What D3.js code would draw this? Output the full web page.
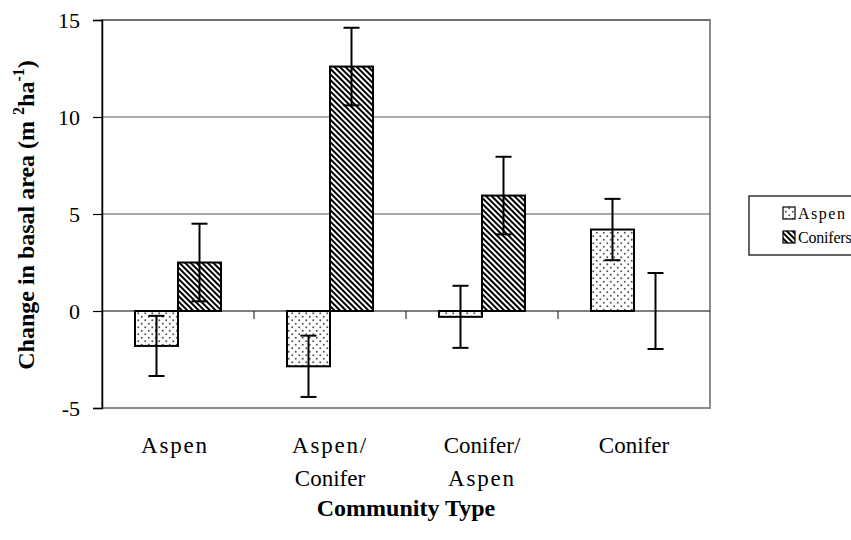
<!DOCTYPE html>
<html>
<head>
<meta charset="utf-8">
<script src="https://cdn.jsdelivr.net/npm/d3@7/dist/d3.min.js"></script>
<style>
  html, body { margin: 0; padding: 0; background: #fff; }
  svg { display: block; font-family: "Liberation Serif", "Times New Roman", serif; }
</style>
</head>
<body>
<svg id="chart" width="851" height="540"></svg>
<script>
// Community types along the x axis (multi-line labels)
const categories = ["Aspen", "Aspen/Conifer", "Conifer/Aspen", "Conifer"];
const categoryLines = [["Aspen"], ["Aspen/", "Conifer"], ["Conifer/", "Aspen"], ["Conifer"]];
const series = ["Aspen", "Conifers"];

// Change in basal area per series, and the error-bar half widths
const aspenValues = [-1.8, -2.85, -0.3, 4.2];
const aspenErrors = [1.55, 1.58, 1.6, 1.58];
const coniferValues = [2.5, 12.6, 5.95, 0];
const coniferErrors = [2.0, 2.0, 2.0, 1.96];

const yTicks = [-5, 0, 5, 10, 15];

const svg = d3.select("#chart");
const plot = { left: 102, right: 710, top: 20, bottom: 408 };

const x = d3.scaleBand().domain(categories).range([plot.left, plot.right]).padding(0);
const xInner = d3.scaleBand().domain(series).range([0, x.bandwidth()])
  .paddingInner(0).paddingOuter(0.767);
const y = d3.scaleLinear().domain([-5, 15]).range([plot.bottom, plot.top]);

// Fill patterns: dotted for aspen, diagonal hatch for conifers
const defs = svg.append("defs");
const dots = defs.append("pattern").attr("id", "dots")
  .attr("patternUnits", "userSpaceOnUse").attr("width", 7).attr("height", 7);
dots.append("rect").attr("width", 7).attr("height", 7).attr("fill", "#fff");
dots.append("circle").attr("cx", 1.75).attr("cy", 1.75).attr("r", 1).attr("fill", "#555");
dots.append("circle").attr("cx", 5.25).attr("cy", 5.25).attr("r", 1).attr("fill", "#555");

const hatch = defs.append("pattern").attr("id", "hatch")
  .attr("patternUnits", "userSpaceOnUse").attr("width", 4).attr("height", 4)
  .attr("patternTransform", "rotate(-45)");
hatch.append("rect").attr("width", 4).attr("height", 4).attr("fill", "#fff");
hatch.append("rect").attr("x", 0).attr("width", 2).attr("height", 4).attr("fill", "#000");

// Plot frame
svg.append("rect")
  .attr("x", plot.left).attr("y", plot.top)
  .attr("width", plot.right - plot.left).attr("height", plot.bottom - plot.top)
  .attr("fill", "none").attr("stroke", "#8c8c8c").attr("stroke-width", 2);

// Horizontal gridlines
svg.append("g").selectAll("line")
  .data(yTicks.filter(t => t !== 0 && t !== -5))
  .join("line")
  .attr("x1", plot.left).attr("x2", plot.right)
  .attr("y1", d => y(d)).attr("y2", d => y(d))
  .attr("stroke", "#555").attr("stroke-width", 1.2);

// Y axis
const yAxis = svg.append("g")
  .attr("transform", `translate(${plot.left},0)`)
  .call(d3.axisLeft(y).tickValues(yTicks).tickSize(9).tickPadding(13).tickFormat(d3.format("d")));
yAxis.select(".domain").attr("stroke", "#000").attr("stroke-width", 1.5);
yAxis.selectAll(".tick line").attr("stroke", "#000").attr("stroke-width", 1.2);
yAxis.selectAll(".tick text")
  .attr("font-family", "Liberation Serif, serif").attr("font-size", 22).attr("fill", "#000")
  .text(d => d < 0 ? "-" + Math.abs(d) : d);

// Zero line (category axis) with tick marks between groups
svg.append("line")
  .attr("x1", plot.left).attr("x2", plot.right)
  .attr("y1", y(0)).attr("y2", y(0))
  .attr("stroke", "#000").attr("stroke-width", 1.2);
svg.append("g").selectAll("line")
  .data(categories.slice(1))
  .join("line")
  .attr("x1", d => x(d)).attr("x2", d => x(d))
  .attr("y1", y(0)).attr("y2", y(0) + 8)
  .attr("stroke", "#333").attr("stroke-width", 1.2);

// Bars
const rows = categories.map((c, i) => [
  { cat: c, s: "Aspen", v: aspenValues[i], e: aspenErrors[i], fill: "url(#dots)" },
  { cat: c, s: "Conifers", v: coniferValues[i], e: coniferErrors[i], fill: "url(#hatch)" }
]).flat();

svg.append("g").selectAll("rect")
  .data(rows.filter(d => d.v !== 0))
  .join("rect")
  .attr("x", d => x(d.cat) + xInner(d.s))
  .attr("width", xInner.bandwidth())
  .attr("y", d => Math.min(y(d.v), y(0)))
  .attr("height", d => Math.abs(y(d.v) - y(0)))
  .attr("fill", d => d.fill)
  .attr("stroke", "#000").attr("stroke-width", 2);

// Error bars
const eb = svg.append("g").attr("stroke", "#000").attr("stroke-width", 2);
rows.forEach(d => {
  const cx = x(d.cat) + xInner(d.s) + xInner.bandwidth() / 2;
  eb.append("line").attr("x1", cx).attr("x2", cx)
    .attr("y1", y(d.v + d.e)).attr("y2", y(d.v - d.e));
  [d.v + d.e, d.v - d.e].forEach(val => {
    eb.append("line").attr("x1", cx - 8).attr("x2", cx + 8)
      .attr("y1", y(val)).attr("y2", y(val));
  });
});

// Category labels
const catG = svg.append("g").attr("font-size", 23).attr("fill", "#000").attr("text-anchor", "middle");
categories.forEach((c, i) => {
  const cx = x(c) + x.bandwidth() / 2;
  const t = catG.append("text").attr("x", cx).attr("y", 453);
  categoryLines[i].forEach((ln, j) => {
    t.append("tspan").attr("x", ln === "Aspen" && i === 0 ? cx - 3 : cx).attr("dy", j === 0 ? 0 : 33)
      .attr("letter-spacing", ln.startsWith("Aspen") ? 1.8 : 0).text(ln);
  });
});

// Axis titles
svg.append("text")
  .attr("x", (plot.left + plot.right) / 2).attr("y", 516)
  .attr("text-anchor", "middle").attr("font-size", 24).attr("font-weight", "bold")
  .text("Community Type");

const yTitle = svg.append("text")
  .attr("transform", "translate(34,215) rotate(-90)")
  .attr("text-anchor", "middle").attr("font-size", 24).attr("font-weight", "bold");
yTitle.append("tspan").text("Change in basal area (m ");
yTitle.append("tspan").attr("dy", -10).attr("font-size", 16).text("2");
yTitle.append("tspan").attr("dy", 10).text("ha");
yTitle.append("tspan").attr("dy", -10).attr("font-size", 16).text("-1");
yTitle.append("tspan").attr("dy", 10).text(")");

// Legend
const legend = svg.append("g");
legend.append("rect")
  .attr("x", 749).attr("y", 196).attr("width", 120).attr("height", 59)
  .attr("fill", "#fff").attr("stroke", "#333").attr("stroke-width", 1.5);
series.forEach((s, i) => {
  const ly = 213 + i * 24;
  legend.append("rect")
    .attr("x", 783).attr("y", ly - 6).attr("width", 12).attr("height", 12)
    .attr("fill", i === 0 ? "url(#dots)" : "url(#hatch)")
    .attr("stroke", "#000").attr("stroke-width", 1.2);
  legend.append("text")
    .attr("x", 798).attr("y", ly + 6).attr("font-size", 16)
    .attr("letter-spacing", s === "Aspen" ? 1.5 : -0.2)
    .text(s);
});
</script>
</body>
</html>
